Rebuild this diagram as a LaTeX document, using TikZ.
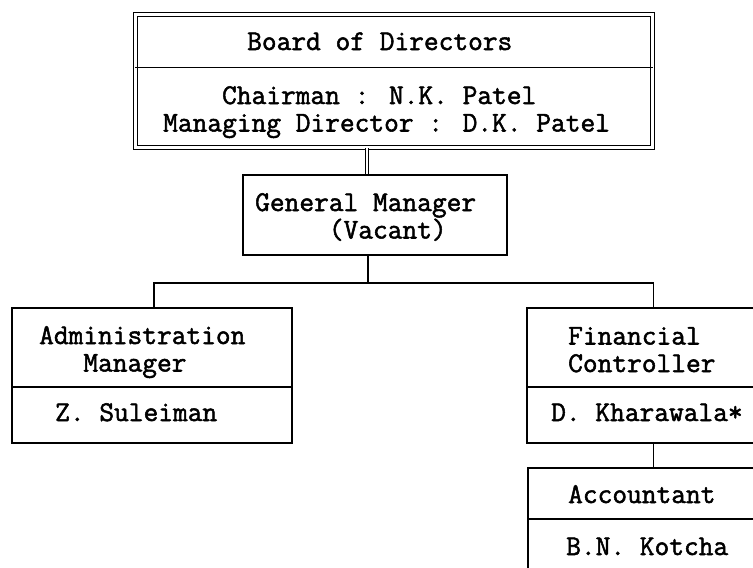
\documentclass[tikz,border=0pt]{standalone}
\usepackage{fontspec}
\newfontfamily\typewriter{Latin Modern Mono}[FakeBold=1.8]
\begin{document}
\begin{tikzpicture}[x=1pt,y=-1pt,
  frame/.style={draw, line width=1.6pt, inner sep=0pt},
  dframe/.style={draw, line width=1.3pt, double, double distance=2.6pt, inner sep=0pt},
  rule/.style={line width=1.6pt},
  link/.style={line width=1.6pt},
  dlink/.style={line width=1.1pt, double, double distance=2.4pt},
  txt/.style={anchor=base west, inner sep=0pt, align=left,
    font=\fontsize{28.6}{27.5}\selectfont\typewriter}]
\useasboundingbox (0,0) rectangle (753,568);
\clip (0,0) rectangle (753,568);

% box frames
\node[dframe, minimum width=517pt, minimum height=133pt] (board) at (394,81) {};
\node[frame, minimum width=264pt, minimum height=80pt] (gm) at (375,215) {};
\node[frame, minimum width=280pt, minimum height=135pt] (adm) at (152,375.5) {};
\node[frame, minimum width=253pt, minimum height=135pt] (fin) at (653.5,375.5) {};
\node[frame, minimum width=252pt, minimum height=152pt] (acc) at (654,544) {};

% compartment rules
\draw[rule] ([yshift=-53.5pt]board.north west) -- ([yshift=-53.5pt]board.north east);
\draw[rule] ([yshift=-80pt]adm.north west) -- ([yshift=-80pt]adm.north east);
\draw[rule] ([yshift=-80pt]fin.north west) -- ([yshift=-80pt]fin.north east);
\draw[rule] ([yshift=-52pt]acc.north west) -- ([yshift=-52pt]acc.north east);

% texts, one node per compartment (last baseline at the given point)
\node[txt] (bd) at (247,50) {Board of Directors};
\node[txt] (names) at (163,131.5) {\phantom{Mana}Chairman : N.K. Patel\\Managing Director : D.K. Patel};
\node[txt] (gmt) at (255,238.5) {General Manager\\\phantom{Gener}(Vacant)};
\node[txt] (admt) at (39,371.5) {Administration\\\phantom{Adm}Manager};
\node[txt] (adms) at (55,421) {Z. Suleiman};
\node[txt] (fint) at (568,372) {Financial\\Controller};
\node[txt] (fins) at (551,421) {D. Kharawala*};
\node[txt] (acct) at (568,503) {Accountant};
\node[txt] (accs) at (566,555) {B.N. Kotcha};

% connectors
\coordinate (gmjoin) at ([xshift=-8pt]gm.north);
\draw[dlink] (board.south -| gmjoin) -- (gmjoin);
\draw[link] ([xshift=-7pt]gm.south) -- ++(0,27) coordinate (hub);
\draw[link] ([xshift=2pt]adm.north) |- (hub) -| (fin.north);
\draw[link] (fin.south) -- (fin.south |- acc.north);
\end{tikzpicture}
\end{document}
